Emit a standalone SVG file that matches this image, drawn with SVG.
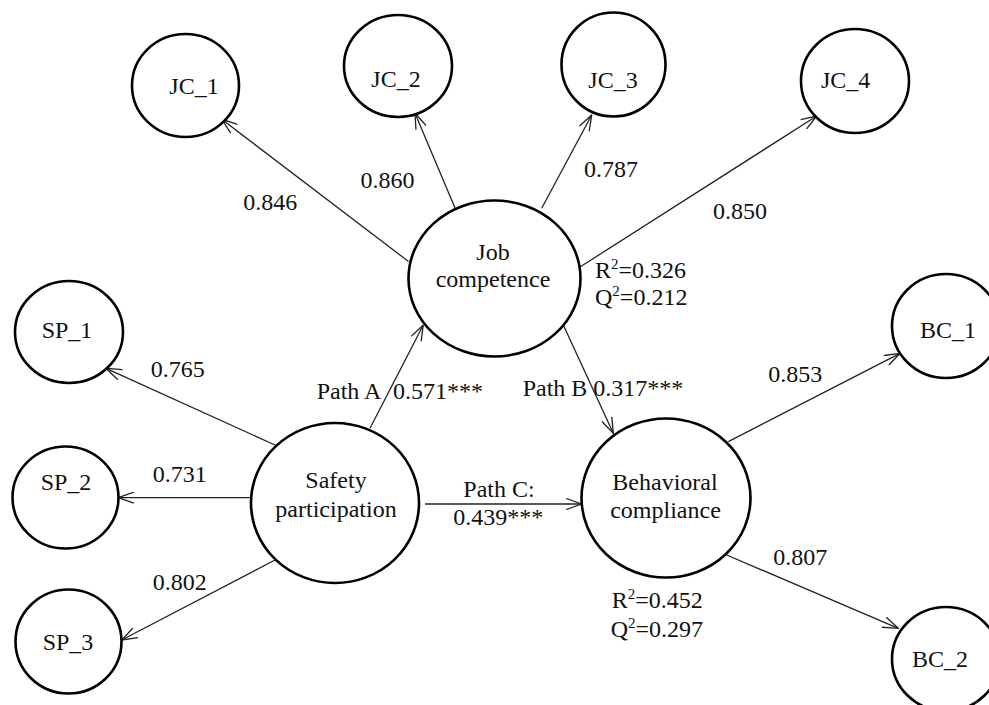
<svg xmlns="http://www.w3.org/2000/svg" width="989" height="705" viewBox="0 0 989 705">
<style>
.n{fill:#fff;stroke:#000;stroke-width:2.6}
.c{stroke:#222;stroke-width:1.3;fill:none}
text{font-family:"Liberation Serif","Times New Roman",serif;font-size:24px;fill:#111}
.m{text-anchor:middle}
.s{font-size:15px}
</style>
<defs>
<marker id="ah" viewBox="0 0 17 12" refX="16.5" refY="6" markerWidth="17" markerHeight="12" markerUnits="userSpaceOnUse" orient="auto">
<path d="M1,0.5 L16.5,6 L1,11.5" fill="none" stroke="#222" stroke-width="1.3"/>
</marker>
</defs>
<rect width="989" height="705" fill="#fff"/>
<g id="connectors">
<line class="c" x1="408.5" y1="261.5" x2="221.7" y2="119.3" marker-end="url(#ah)"/>
<line class="c" x1="455" y1="208" x2="415" y2="113.3" marker-end="url(#ah)"/>
<line class="c" x1="541.7" y1="208.3" x2="591.7" y2="115" marker-end="url(#ah)"/>
<line class="c" x1="580" y1="267" x2="816.7" y2="116" marker-end="url(#ah)"/>
<line class="c" x1="275" y1="445" x2="106" y2="368.3" marker-end="url(#ah)"/>
<line class="c" x1="250" y1="497.7" x2="118.3" y2="497.7" marker-end="url(#ah)"/>
<line class="c" x1="275" y1="560" x2="121.7" y2="640" marker-end="url(#ah)"/>
<line class="c" x1="370" y1="428.3" x2="423.3" y2="325" marker-end="url(#ah)"/>
<line class="c" x1="563.3" y1="325" x2="613.3" y2="433.3" marker-end="url(#ah)"/>
<line class="c" x1="425" y1="504" x2="581.7" y2="504" marker-end="url(#ah)"/>
<line class="c" x1="728.3" y1="441.7" x2="900" y2="353.3" marker-end="url(#ah)"/>
<line class="c" x1="726.7" y1="555" x2="898.3" y2="628.3" marker-end="url(#ah)"/>
<text x="243.3" y="210">0.846</text>
<text x="360.5" y="188">0.860</text>
<text x="584" y="177">0.787</text>
<text x="713" y="219">0.850</text>
<text x="150.7" y="377">0.765</text>
<text x="152.7" y="482">0.731</text>
<text x="152.7" y="590">0.802</text>
<text x="768.3" y="381.7">0.853</text>
<text x="773.3" y="565">0.807</text>
<text x="316.7" y="399">Path A</text>
<text x="393" y="399">0.571***</text>
<text x="522.7" y="396">Path B 0.317***</text>
<text class="m" x="499" y="497">Path C:</text>
<text class="m" x="498.3" y="525">0.439***</text>
</g>
<g id="JC_1"><ellipse class="n" cx="185.5" cy="85.5" rx="53.5" ry="51.5"/><text class="m" x="194" y="94">JC_1</text></g>
<g id="JC_2"><ellipse class="n" cx="398" cy="66" rx="54" ry="51"/><text class="m" x="396" y="87">JC_2</text></g>
<g id="JC_3"><ellipse class="n" cx="613.5" cy="64.5" rx="52" ry="52"/><text class="m" x="613" y="87.5">JC_3</text></g>
<g id="JC_4"><ellipse class="n" cx="855" cy="81" rx="54" ry="52"/><text class="m" x="845.7" y="87.5">JC_4</text></g>
<g id="job_competence"><ellipse class="n" cx="494.5" cy="278.5" rx="86" ry="78"/><text class="m" x="493" y="260">Job</text><text class="m" x="493" y="287">competence</text>
<text x="595" y="278">R<tspan class="s" dy="-9">2</tspan><tspan dy="9">=0.326</tspan></text>
<text x="595" y="305">Q<tspan class="s" dy="-9">2</tspan><tspan dy="9">=0.212</tspan></text></g>
<g id="SP_1"><ellipse class="n" cx="69" cy="332" rx="54" ry="51"/><text class="m" x="67" y="338">SP_1</text></g>
<g id="SP_2"><ellipse class="n" cx="65.5" cy="497.5" rx="53" ry="51"/><text class="m" x="66" y="490">SP_2</text></g>
<g id="SP_3"><ellipse class="n" cx="68.5" cy="641.5" rx="53" ry="52"/><text class="m" x="68" y="650">SP_3</text></g>
<g id="safety_participation"><ellipse class="n" cx="335" cy="503" rx="84" ry="80"/><text class="m" x="336" y="488">Safety</text><text class="m" x="336" y="516.7">participation</text></g>
<g id="behavioral_compliance"><ellipse class="n" cx="666" cy="498" rx="84.5" ry="79.5"/><text class="m" x="665" y="490">Behavioral</text><text class="m" x="665.5" y="518">compliance</text>
<text x="611.7" y="608">R<tspan class="s" dy="-9">2</tspan><tspan dy="9">=0.452</tspan></text>
<text x="610.7" y="636.5">Q<tspan class="s" dy="-9">2</tspan><tspan dy="9">=0.297</tspan></text></g>
<g id="BC_1"><ellipse class="n" cx="946" cy="326" rx="54" ry="52"/><text class="m" x="948" y="338">BC_1</text></g>
<g id="BC_2"><ellipse class="n" cx="946" cy="659" rx="54" ry="52"/><text class="m" x="940" y="667">BC_2</text></g>
</svg>
